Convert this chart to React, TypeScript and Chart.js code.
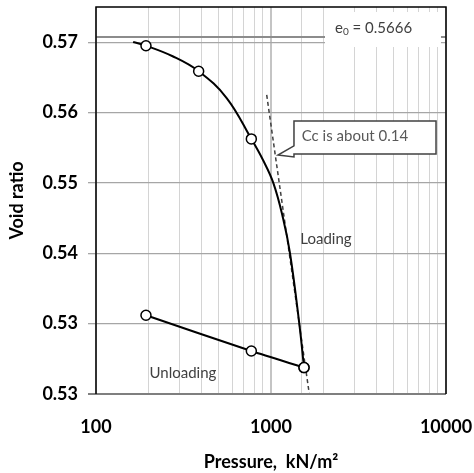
import React, { useEffect, useRef } from "react";
import { Chart, registerables } from "chart.js";

Chart.register(...registerables);

// ---- data ----
const loadingPressure = [193, 386, 772, 1544];
const loadingVoid = [0.5656, 0.5627, 0.555, 0.529];
const loadingCurvePressure = [163, 193, 274, 386, 558, 772, 900, 1033, 1171, 1284, 1451, 1544];
const loadingCurveVoid = [0.56602, 0.5656, 0.5644, 0.5627, 0.55965, 0.555, 0.5526, 0.54995, 0.54601, 0.542, 0.534, 0.529];
const unloadingPressure = [193, 772, 1544];
const unloadingVoid = [0.53495, 0.53089, 0.529];
const ccLinePressure = [945, 1655];
const ccLineVoid = [0.56, 0.526];
const e0Value = 0.5666;
const e0Pressure = [100, 10000];
const yTickValues = [0.526, 0.534, 0.542, 0.55, 0.558, 0.566];
const yTickLabels = ["0.53", "0.53", "0.54", "0.55", "0.56", "0.57"];
const xLabelValues = [100, 1000, 10000];
const xLabelTexts = ["100", "1000", "10000"];
const xRange = [100, 10000];
const yRange = [0.526, 0.57];

// annotation anchors (data space)
const loadingLabel = { text: "Loading", p: 2062, e: 0.54362 };
const unloadingLabel = { text: "Unloading", p: 314, e: 0.52838 };
const ccLabel = { text: "Cc is about 0.14", p: 1498, e: 0.55533 };
const ccBox = { p0: 1353, p1: 8770, eTop: 0.55704, eBottom: 0.55329 };
const ccPointer = { tipP: 1096, tipE: 0.55317, baseTopE: 0.55421, baseBottomE: 0.55296 };
const e0Label = { p: 2321, e: 0.56765, value: "0.5666" };
const e0Box = { p0: 2035, p1: 9358, eTop: 0.56943, eBottom: 0.56545 };

const FONT = "Lato, 'Open Sans', sans-serif";

const annotationPlugin = {
  id: "annotations",
  afterDatasetsDraw(chart: any) {
    const { ctx, chartArea } = chart;
    const x = chart.scales.x;
    const y = chart.scales.y;
    ctx.save();
    ctx.beginPath();
    ctx.rect(chartArea.left, chartArea.top, chartArea.right - chartArea.left, chartArea.bottom - chartArea.top);
    ctx.clip();

    // e0 label box (white, hides the line and grid under it)
    const ex0 = x.getPixelForValue(e0Box.p0);
    const ex1 = x.getPixelForValue(e0Box.p1);
    const ey0 = y.getPixelForValue(e0Box.eTop);
    const ey1 = y.getPixelForValue(e0Box.eBottom);
    ctx.fillStyle = "#ffffff";
    ctx.fillRect(ex0, ey0, ex1 - ex0, ey1 - ey0);

    ctx.fillStyle = "#404040";
    ctx.textBaseline = "middle";
    ctx.textAlign = "left";
    let tx = x.getPixelForValue(e0Label.p);
    const ty = y.getPixelForValue(e0Label.e);
    ctx.font = `15px ${FONT}`;
    ctx.fillText("e", tx, ty);
    tx += ctx.measureText("e").width;
    ctx.font = `10px ${FONT}`;
    ctx.fillText("0", tx, ty + 4);
    tx += ctx.measureText("0").width;
    ctx.font = `15px ${FONT}`;
    ctx.fillText(" = " + e0Label.value, tx, ty);

    // Cc callout
    const bx0 = x.getPixelForValue(ccBox.p0);
    const bx1 = x.getPixelForValue(ccBox.p1);
    const by0 = y.getPixelForValue(ccBox.eTop);
    const by1 = y.getPixelForValue(ccBox.eBottom);
    const tipX = x.getPixelForValue(ccPointer.tipP);
    const tipY = y.getPixelForValue(ccPointer.tipE);
    const baseTop = y.getPixelForValue(ccPointer.baseTopE);
    const baseBottom = y.getPixelForValue(ccPointer.baseBottomE);
    ctx.beginPath();
    ctx.moveTo(bx0, by0);
    ctx.lineTo(bx1, by0);
    ctx.lineTo(bx1, by1);
    ctx.lineTo(bx0, by1);
    ctx.lineTo(bx0, baseBottom);
    ctx.lineTo(tipX, tipY);
    ctx.lineTo(bx0, baseTop);
    ctx.closePath();
    ctx.fillStyle = "#ffffff";
    ctx.fill();
    ctx.strokeStyle = "#404040";
    ctx.lineWidth = 1.5;
    ctx.stroke();

    ctx.font = `15px ${FONT}`;
    ctx.fillStyle = "#595959";
    ctx.textAlign = "left";
    ctx.fillText(ccLabel.text, x.getPixelForValue(ccLabel.p), y.getPixelForValue(ccLabel.e));

    // Loading / Unloading labels
    ctx.fillStyle = "#404040";
    ctx.textAlign = "center";
    ctx.fillText(loadingLabel.text, x.getPixelForValue(loadingLabel.p), y.getPixelForValue(loadingLabel.e));
    ctx.fillText(unloadingLabel.text, x.getPixelForValue(unloadingLabel.p), y.getPixelForValue(unloadingLabel.e));
    ctx.restore();
  },
  afterDraw(chart: any) {
    const { ctx, chartArea } = chart;
    const { left, top, right, bottom } = chartArea;
    ctx.save();
    ctx.lineWidth = 2;
    ctx.strokeStyle = "#7f7f7f";
    ctx.beginPath();
    ctx.moveTo(left - 8, bottom);
    ctx.lineTo(right, bottom);
    ctx.stroke();
    ctx.strokeStyle = "#000000";
    ctx.lineWidth = 1.5;
    ctx.beginPath();
    ctx.moveTo(left, bottom);
    ctx.lineTo(left, top);
    ctx.lineTo(right, top);
    ctx.lineTo(right, bottom);
    ctx.stroke();
    ctx.restore();
  },
};

const isMajor = (v: number) => Math.abs(Math.log10(v) - Math.round(Math.log10(v))) < 1e-9;

export default function App() {
  const canvasRef = useRef<HTMLCanvasElement | null>(null);

  useEffect(() => {
    const canvas = canvasRef.current;
    if (!canvas) return;
    const chart = new Chart(canvas, {
      type: "line",
      data: {
        datasets: [
          {
            label: "e0",
            data: e0Pressure.map((p) => ({ x: p, y: e0Value })),
            borderColor: "#8c8c8c",
            borderWidth: 2,
            pointRadius: 0,
            tension: 0,
            order: 5,
          },
          {
            label: "Cc",
            data: ccLinePressure.map((p, i) => ({ x: p, y: ccLineVoid[i] })),
            borderColor: "#404040",
            borderWidth: 1.5,
            borderDash: [4, 3],
            pointRadius: 0,
            tension: 0,
            order: 4,
          },
          {
            label: "Loading curve",
            data: loadingCurvePressure.map((p, i) => ({ x: p, y: loadingCurveVoid[i] })),
            borderColor: "#000000",
            borderWidth: 2,
            pointRadius: 0,
            tension: 0.4,
            order: 3,
          },
          {
            label: "Unloading",
            data: unloadingPressure.map((p, i) => ({ x: p, y: unloadingVoid[i] })),
            borderColor: "#000000",
            borderWidth: 2,
            pointRadius: 5,
            pointBorderWidth: 1.5,
            pointBackgroundColor: "#ffffff",
            pointBorderColor: "#000000",
            tension: 0.25,
            order: 2,
          },
          {
            label: "Loading",
            data: loadingPressure.map((p, i) => ({ x: p, y: loadingVoid[i] })),
            showLine: false,
            pointRadius: 5,
            pointBorderWidth: 1.5,
            pointBackgroundColor: "#ffffff",
            pointBorderColor: "#000000",
            order: 1,
          },
        ],
      },
      options: {
        responsive: false,
        animation: false,
        devicePixelRatio: 1,
        layout: { padding: { left: 0, right: 28, top: 7, bottom: 0 } },
        plugins: {
          legend: { display: false },
          tooltip: { enabled: false },
        },
        scales: {
          x: {
            type: "logarithmic",
            min: xRange[0],
            max: xRange[1],
            border: { display: false },
            grid: {
              drawTicks: false,
              color: (c: any) => (c.tick && isMajor(c.tick.value) ? "#c4c4c4" : "#d4d4d4"),
              lineWidth: (c: any) => (c.tick && isMajor(c.tick.value) ? 2 : 1),
            },
            ticks: {
              autoSkip: false,
              maxRotation: 0,
              padding: 22,
              color: "#000000",
              font: { family: FONT, size: 18, weight: "bold" },
              callback: (v: any) => {
                const idx = xLabelValues.findIndex((t) => Math.abs(t - Number(v)) < 1e-6 * t);
                return idx >= 0 ? xLabelTexts[idx] : "";
              },
            },
            title: {
              display: true,
              text: "Pressure,  kN/m²",
              color: "#000000",
              font: { family: FONT, size: 18, weight: "bold" },
              padding: { top: 0, bottom: 0 },
            },
            afterFit: (s: any) => {
              s.height = 79;
              s.paddingLeft = 0;
              s.paddingRight = 0;
            },
          },
          y: {
            type: "linear",
            min: yRange[0],
            max: yRange[1],
            border: { display: false },
            grid: {
              color: "#a6a6a6",
              lineWidth: 1.3,
              drawTicks: true,
              tickLength: 8,
              tickColor: "#a6a6a6",
            },
            afterBuildTicks: (s: any) => {
              s.ticks = yTickValues.map((v) => ({ value: v }));
            },
            ticks: {
              padding: 10,
              color: "#000000",
              font: { family: FONT, size: 18, weight: "bold" },
              callback: (_v: any, i: number) => yTickLabels[i],
            },
            title: {
              display: true,
              text: "Void ratio",
              color: "#000000",
              font: { family: FONT, size: 18, weight: "bold" },
              padding: { top: 6, bottom: 0 },
            },
            afterFit: (s: any) => {
              s.width = 96;
              s.paddingTop = 0;
              s.paddingBottom = 0;
            },
          },
        },
      },
      plugins: [annotationPlugin],
    } as any);
    return () => chart.destroy();
  }, []);

  return (
    <div style={{ position: "fixed", left: 0, top: 0, width: 474, height: 473, background: "#ffffff" }}>
      <canvas ref={canvasRef} width={474} height={473} />
    </div>
  );
}
